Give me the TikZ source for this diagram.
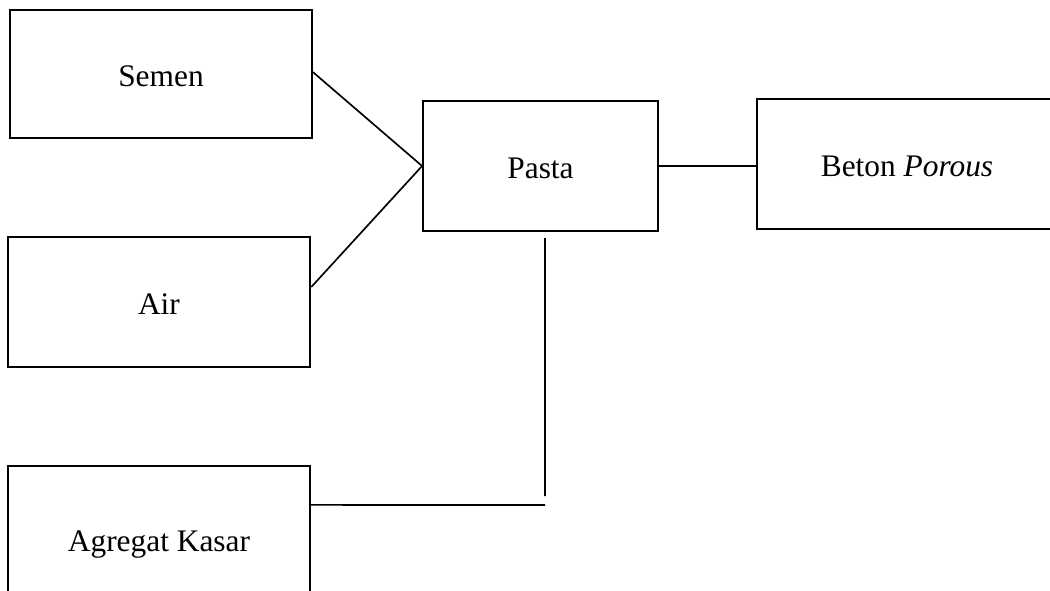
\documentclass[tikz,border=0pt]{standalone}
\usepackage{fontspec}
\setmainfont{Liberation Serif}
\tikzset{
    kotak/.style={draw, line width=0.65pt, inner sep=0pt, text height=11pt, text depth=2pt},
    garis/.style={line width=0.6pt}
}
\begin{document}
\begin{tikzpicture}[x=0.36pt, y=-0.36pt, font=\fontsize{11.3}{13}\selectfont]
    \useasboundingbox (0,0) rectangle (1050,590);
    \clip (0,0) rectangle (1050,590);
    % bahan
    \node[kotak, minimum width=108.7pt, minimum height=46.1pt] (semen) at (161,74) {Semen};
    \node[kotak, minimum width=109pt, minimum height=46.8pt] (air) at (159,302) {Air};
    \node[kotak, minimum width=108.7pt, minimum height=52.2pt] (agregat) at (159,538.5) {Agregat Kasar};
    % hasil
    \node[kotak, minimum width=84.6pt, minimum height=46.8pt] (pasta) at (540.5,166) {Pasta};
    \node[kotak, minimum width=108pt, minimum height=46.8pt] (beton) at (907,164) {Beton \textit{Porous}};
    \coordinate (pk) at (545,496);
    \coordinate (ak) at (545,505);
    % garis penghubung
    \draw[garis] ([yshift=0.7pt]semen.east) -- (pasta.west);
    \draw[garis] ([yshift=5.4pt]air.east) -- (pasta.west);
    \draw[garis] (pasta.east) -- (pasta.east -| beton.west);
    \draw[garis] ([xshift=1.6pt, yshift=-2.2pt]pasta.south) -- (pk);
    \draw[garis] ([yshift=12.1pt]agregat.east) -- (ak);
\end{tikzpicture}
\end{document}
